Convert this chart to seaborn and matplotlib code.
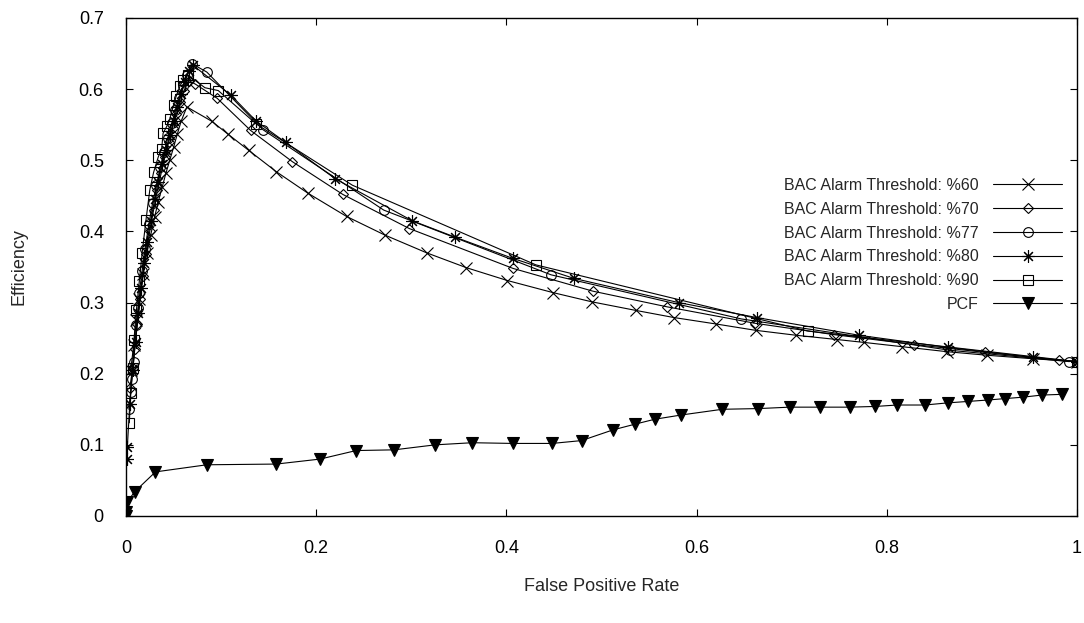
import matplotlib
matplotlib.use("Agg")
import matplotlib.pyplot as plt
import seaborn as sns

# BAC alarm threshold %60 (x marker)
fpr_60 = [0.005, 0.008, 0.011, 0.014, 0.018, 0.022, 0.026, 0.030, 0.034, 0.038, 0.042, 0.046,
          0.050, 0.054, 0.058, 0.064, 0.090, 0.107, 0.129, 0.158, 0.191, 0.232, 0.272, 0.316,
          0.358, 0.401, 0.449, 0.490, 0.536, 0.576, 0.620, 0.662, 0.705, 0.748, 0.776, 0.816,
          0.863, 0.905, 0.954, 1.0]
eff_60 = [0.205, 0.240, 0.275, 0.305, 0.340, 0.370, 0.395, 0.420, 0.442, 0.462, 0.482, 0.500,
          0.518, 0.537, 0.555, 0.575, 0.555, 0.537, 0.514, 0.484, 0.454, 0.421, 0.395, 0.370,
          0.349, 0.331, 0.314, 0.301, 0.289, 0.279, 0.270, 0.261, 0.254, 0.248, 0.244, 0.238,
          0.231, 0.226, 0.221, 0.217]

# %70 (diamond)
fpr_70 = [0.004, 0.007, 0.009, 0.012, 0.015, 0.018, 0.021, 0.025, 0.029, 0.033, 0.037, 0.041,
          0.045, 0.049, 0.053, 0.057, 0.061, 0.066, 0.073, 0.096, 0.131, 0.175, 0.228, 0.298,
          0.407, 0.491, 0.569, 0.661, 0.744, 0.829, 0.903, 0.981, 1.0]
eff_70 = [0.180, 0.208, 0.235, 0.270, 0.305, 0.338, 0.368, 0.400, 0.430, 0.458, 0.482, 0.505,
          0.526, 0.546, 0.565, 0.582, 0.598, 0.612, 0.607, 0.587, 0.542, 0.498, 0.452, 0.404,
          0.348, 0.316, 0.294, 0.271, 0.255, 0.241, 0.230, 0.219, 0.217]

# %77 (circle)
fpr_77 = [0.003, 0.005, 0.006, 0.008, 0.011, 0.013, 0.014, 0.017, 0.020, 0.024, 0.028, 0.032,
          0.036, 0.040, 0.044, 0.048, 0.052, 0.056, 0.060, 0.064, 0.069, 0.085, 0.144, 0.271,
          0.447, 0.647, 0.866, 0.992]
eff_77 = [0.150, 0.175, 0.193, 0.217, 0.268, 0.292, 0.314, 0.345, 0.375, 0.410, 0.440, 0.465,
          0.490, 0.512, 0.532, 0.552, 0.570, 0.588, 0.605, 0.620, 0.636, 0.624, 0.543, 0.430,
          0.339, 0.277, 0.233, 0.217]

# %80 (asterisk)
fpr_80 = [0.001, 0.0014, 0.004, 0.007, 0.010, 0.013, 0.016, 0.019, 0.022, 0.026, 0.030, 0.034,
          0.038, 0.042, 0.046, 0.050, 0.054, 0.058, 0.062, 0.066, 0.070, 0.110, 0.137, 0.168,
          0.220, 0.301, 0.346, 0.407, 0.471, 0.581, 0.663, 0.771, 0.864, 0.954, 1.0]
eff_80 = [0.080, 0.097, 0.158, 0.205, 0.245, 0.285, 0.320, 0.355, 0.385, 0.415, 0.445, 0.470,
          0.495, 0.515, 0.535, 0.555, 0.575, 0.593, 0.610, 0.625, 0.634, 0.592, 0.555, 0.525,
          0.474, 0.415, 0.392, 0.362, 0.334, 0.300, 0.279, 0.254, 0.237, 0.223, 0.217]

# %90 (square)
fpr_90 = [0.0035, 0.005, 0.007, 0.0084, 0.011, 0.014, 0.017, 0.021, 0.025, 0.029, 0.034, 0.0375,
          0.039, 0.043, 0.046, 0.050, 0.053, 0.057, 0.060, 0.065, 0.083, 0.097, 0.137, 0.238,
          0.431, 0.717, 1.0]
eff_90 = [0.131, 0.173, 0.208, 0.248, 0.290, 0.330, 0.370, 0.416, 0.458, 0.483, 0.505, 0.516,
          0.538, 0.548, 0.558, 0.578, 0.591, 0.605, 0.613, 0.620, 0.602, 0.598, 0.551, 0.465,
          0.353, 0.260, 0.217]

# PCF (filled triangle)
fpr_pcf = [0.0, 0.0, 0.001, 0.009, 0.031, 0.085, 0.158, 0.204, 0.242, 0.282, 0.325, 0.364,
           0.407, 0.448, 0.479, 0.512, 0.535, 0.556, 0.584, 0.627, 0.665, 0.698, 0.730, 0.761,
           0.788, 0.811, 0.840, 0.864, 0.885, 0.906, 0.924, 0.943, 0.963, 0.984]
eff_pcf = [0.0, 0.006, 0.019, 0.034, 0.062, 0.072, 0.073, 0.080, 0.092, 0.093, 0.100, 0.103,
           0.102, 0.102, 0.106, 0.121, 0.129, 0.136, 0.142, 0.150, 0.151, 0.153, 0.153, 0.153,
           0.154, 0.156, 0.156, 0.159, 0.161, 0.163, 0.165, 0.167, 0.170, 0.171]

series = [
    ("BAC Alarm Threshold: %60", fpr_60, eff_60, "x", 8, "none"),
    ("BAC Alarm Threshold: %70", fpr_70, eff_70, "D", 5, "none"),
    ("BAC Alarm Threshold: %77", fpr_77, eff_77, "o", 7, "none"),
    ("BAC Alarm Threshold: %80", fpr_80, eff_80, (8, 2, 0), 9, "none"),
    ("BAC Alarm Threshold: %90", fpr_90, eff_90, "s", 7, "none"),
    ("PCF", fpr_pcf, eff_pcf, "v", 9, "black"),
]

sns.set_style("ticks")
plt.rcParams["font.family"] = ["Liberation Sans", "DejaVu Sans"]

fig = plt.figure(figsize=(10.84, 6.23), dpi=100)
ax = fig.add_axes([126 / 1084, 1 - 516 / 623, 951 / 1084, 498 / 623])

for label, xs, ys, mk, ms, fc in series:
    sns.lineplot(x=xs, y=ys, ax=ax, sort=False, estimator=None, color="black",
                 linewidth=0.8, marker=mk, markersize=ms, mec="black", mfc=fc,
                 mew=0.8, label=label)

ax.set_xlim(0, 1)
ax.set_ylim(0, 0.7)
ax.set_xticks([0, 0.2, 0.4, 0.6, 0.8, 1.0])
ax.set_xticklabels(["0", "0.2", "0.4", "0.6", "0.8", "1"])
ax.set_yticks([0, 0.1, 0.2, 0.3, 0.4, 0.5, 0.6, 0.7])
ax.set_yticklabels(["0", "0.1", "0.2", "0.3", "0.4", "0.5", "0.6", "0.7"])
ax.tick_params(direction="in", top=True, right=True, length=5, width=0.8,
               labelsize=13, colors="black")
ax.tick_params(axis="x", pad=17)
ax.tick_params(axis="y", pad=16)
for sp in ax.spines.values():
    sp.set_visible(True)
    sp.set_color("black")
    sp.set_linewidth(1.0)

ax.set_xlabel("False Positive Rate", fontsize=13)
ax.set_ylabel("Efficiency", fontsize=13)
ax.xaxis.set_label_coords(0.5, -(578 - 516) / 498)
ax.yaxis.set_label_coords(-(126 - 28) / 951, 0.5)

handles, labels = ax.get_legend_handles_labels()
ax.legend(handles, labels, loc="center right", bbox_to_anchor=(1070 / 1084, 1 - 245 / 623),
          bbox_transform=fig.transFigure, frameon=False, markerfirst=False,
          fontsize=11.5, handlelength=4.3, labelspacing=0.55, borderpad=0, handletextpad=0.9)

fig.savefig("out.png", dpi=100)
